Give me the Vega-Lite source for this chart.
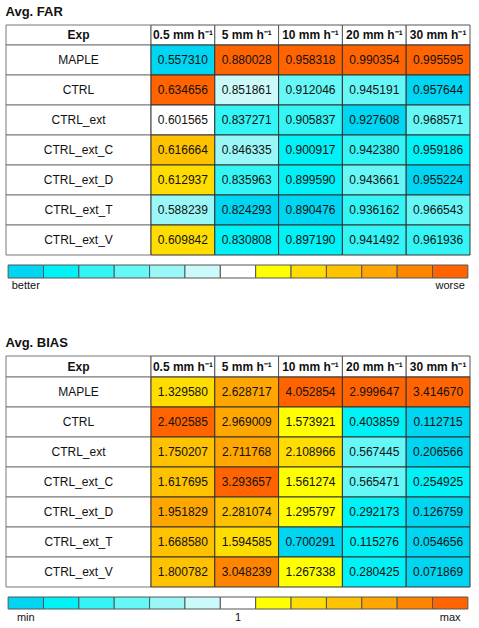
{
  "$schema": "https://vega.github.io/schema/vega-lite/v6.json",
  "padding": {"left": 5, "top": 5, "right": 5, "bottom": 5},
  "config": {
    "view": {"stroke": null},
    "font": "Liberation Sans",
    "text": {"font": "Liberation Sans", "fontSize": 12, "color": "#111"},
    "title": {"font": "Liberation Sans", "fontSize": 13, "fontWeight": "bold", "anchor": "start", "color": "#111"}
  },
  "datasets": {
    "far": [
      {"exp": "MAPLE", "thr": "0.5 mm h⁻¹", "value": 0.557310, "level": 1},
      {"exp": "MAPLE", "thr": "5 mm h⁻¹", "value": 0.880028, "level": 13},
      {"exp": "MAPLE", "thr": "10 mm h⁻¹", "value": 0.958318, "level": 13},
      {"exp": "MAPLE", "thr": "20 mm h⁻¹", "value": 0.990354, "level": 13},
      {"exp": "MAPLE", "thr": "30 mm h⁻¹", "value": 0.995595, "level": 13},
      {"exp": "CTRL", "thr": "0.5 mm h⁻¹", "value": 0.634656, "level": 13},
      {"exp": "CTRL", "thr": "5 mm h⁻¹", "value": 0.851861, "level": 6},
      {"exp": "CTRL", "thr": "10 mm h⁻¹", "value": 0.912046, "level": 4},
      {"exp": "CTRL", "thr": "20 mm h⁻¹", "value": 0.945191, "level": 4},
      {"exp": "CTRL", "thr": "30 mm h⁻¹", "value": 0.957644, "level": 1},
      {"exp": "CTRL_ext", "thr": "0.5 mm h⁻¹", "value": 0.601565, "level": 7},
      {"exp": "CTRL_ext", "thr": "5 mm h⁻¹", "value": 0.837271, "level": 3},
      {"exp": "CTRL_ext", "thr": "10 mm h⁻¹", "value": 0.905837, "level": 3},
      {"exp": "CTRL_ext", "thr": "20 mm h⁻¹", "value": 0.927608, "level": 1},
      {"exp": "CTRL_ext", "thr": "30 mm h⁻¹", "value": 0.968571, "level": 4},
      {"exp": "CTRL_ext_C", "thr": "0.5 mm h⁻¹", "value": 0.616664, "level": 10},
      {"exp": "CTRL_ext_C", "thr": "5 mm h⁻¹", "value": 0.846335, "level": 5},
      {"exp": "CTRL_ext_C", "thr": "10 mm h⁻¹", "value": 0.900917, "level": 2},
      {"exp": "CTRL_ext_C", "thr": "20 mm h⁻¹", "value": 0.942380, "level": 3},
      {"exp": "CTRL_ext_C", "thr": "30 mm h⁻¹", "value": 0.959186, "level": 2},
      {"exp": "CTRL_ext_D", "thr": "0.5 mm h⁻¹", "value": 0.612937, "level": 9},
      {"exp": "CTRL_ext_D", "thr": "5 mm h⁻¹", "value": 0.835963, "level": 3},
      {"exp": "CTRL_ext_D", "thr": "10 mm h⁻¹", "value": 0.899590, "level": 2},
      {"exp": "CTRL_ext_D", "thr": "20 mm h⁻¹", "value": 0.943661, "level": 4},
      {"exp": "CTRL_ext_D", "thr": "30 mm h⁻¹", "value": 0.955224, "level": 1},
      {"exp": "CTRL_ext_T", "thr": "0.5 mm h⁻¹", "value": 0.588239, "level": 5},
      {"exp": "CTRL_ext_T", "thr": "5 mm h⁻¹", "value": 0.824293, "level": 1},
      {"exp": "CTRL_ext_T", "thr": "10 mm h⁻¹", "value": 0.890476, "level": 1},
      {"exp": "CTRL_ext_T", "thr": "20 mm h⁻¹", "value": 0.936162, "level": 3},
      {"exp": "CTRL_ext_T", "thr": "30 mm h⁻¹", "value": 0.966543, "level": 4},
      {"exp": "CTRL_ext_V", "thr": "0.5 mm h⁻¹", "value": 0.609842, "level": 9},
      {"exp": "CTRL_ext_V", "thr": "5 mm h⁻¹", "value": 0.830808, "level": 2},
      {"exp": "CTRL_ext_V", "thr": "10 mm h⁻¹", "value": 0.897190, "level": 2},
      {"exp": "CTRL_ext_V", "thr": "20 mm h⁻¹", "value": 0.941492, "level": 3},
      {"exp": "CTRL_ext_V", "thr": "30 mm h⁻¹", "value": 0.961936, "level": 3}
    ],
    "bias": [
      {"exp": "MAPLE", "thr": "0.5 mm h⁻¹", "value": 1.329580, "level": 9},
      {"exp": "MAPLE", "thr": "5 mm h⁻¹", "value": 2.628717, "level": 11},
      {"exp": "MAPLE", "thr": "10 mm h⁻¹", "value": 4.052854, "level": 13},
      {"exp": "MAPLE", "thr": "20 mm h⁻¹", "value": 2.999647, "level": 13},
      {"exp": "MAPLE", "thr": "30 mm h⁻¹", "value": 3.414670, "level": 13},
      {"exp": "CTRL", "thr": "0.5 mm h⁻¹", "value": 2.402585, "level": 13},
      {"exp": "CTRL", "thr": "5 mm h⁻¹", "value": 2.969009, "level": 11},
      {"exp": "CTRL", "thr": "10 mm h⁻¹", "value": 1.573921, "level": 8},
      {"exp": "CTRL", "thr": "20 mm h⁻¹", "value": 0.403859, "level": 2},
      {"exp": "CTRL", "thr": "30 mm h⁻¹", "value": 0.112715, "level": 1},
      {"exp": "CTRL_ext", "thr": "0.5 mm h⁻¹", "value": 1.750207, "level": 10},
      {"exp": "CTRL_ext", "thr": "5 mm h⁻¹", "value": 2.711768, "level": 11},
      {"exp": "CTRL_ext", "thr": "10 mm h⁻¹", "value": 2.108966, "level": 9},
      {"exp": "CTRL_ext", "thr": "20 mm h⁻¹", "value": 0.567445, "level": 4},
      {"exp": "CTRL_ext", "thr": "30 mm h⁻¹", "value": 0.206566, "level": 1},
      {"exp": "CTRL_ext_C", "thr": "0.5 mm h⁻¹", "value": 1.617695, "level": 10},
      {"exp": "CTRL_ext_C", "thr": "5 mm h⁻¹", "value": 3.293657, "level": 13},
      {"exp": "CTRL_ext_C", "thr": "10 mm h⁻¹", "value": 1.561274, "level": 8},
      {"exp": "CTRL_ext_C", "thr": "20 mm h⁻¹", "value": 0.565471, "level": 4},
      {"exp": "CTRL_ext_C", "thr": "30 mm h⁻¹", "value": 0.254925, "level": 2},
      {"exp": "CTRL_ext_D", "thr": "0.5 mm h⁻¹", "value": 1.951829, "level": 11},
      {"exp": "CTRL_ext_D", "thr": "5 mm h⁻¹", "value": 2.281074, "level": 10},
      {"exp": "CTRL_ext_D", "thr": "10 mm h⁻¹", "value": 1.295797, "level": 8},
      {"exp": "CTRL_ext_D", "thr": "20 mm h⁻¹", "value": 0.292173, "level": 2},
      {"exp": "CTRL_ext_D", "thr": "30 mm h⁻¹", "value": 0.126759, "level": 1},
      {"exp": "CTRL_ext_T", "thr": "0.5 mm h⁻¹", "value": 1.668580, "level": 10},
      {"exp": "CTRL_ext_T", "thr": "5 mm h⁻¹", "value": 1.594585, "level": 9},
      {"exp": "CTRL_ext_T", "thr": "10 mm h⁻¹", "value": 0.700291, "level": 1},
      {"exp": "CTRL_ext_T", "thr": "20 mm h⁻¹", "value": 0.115276, "level": 2},
      {"exp": "CTRL_ext_T", "thr": "30 mm h⁻¹", "value": 0.054656, "level": 1},
      {"exp": "CTRL_ext_V", "thr": "0.5 mm h⁻¹", "value": 1.800782, "level": 10},
      {"exp": "CTRL_ext_V", "thr": "5 mm h⁻¹", "value": 3.048239, "level": 12},
      {"exp": "CTRL_ext_V", "thr": "10 mm h⁻¹", "value": 1.267338, "level": 8},
      {"exp": "CTRL_ext_V", "thr": "20 mm h⁻¹", "value": 0.280425, "level": 2},
      {"exp": "CTRL_ext_V", "thr": "30 mm h⁻¹", "value": 0.071869, "level": 1}
    ],
    "levels": [
      {"level": 1}, {"level": 2}, {"level": 3}, {"level": 4}, {"level": 5}, {"level": 6}, {"level": 7},
      {"level": 8}, {"level": 9}, {"level": 10}, {"level": 11}, {"level": 12}, {"level": 13}
    ],
    "farLabels": [{"level": 1, "label": "better"}, {"level": 13, "label": "worse"}],
    "biasLabels": [{"level": 1, "label": "min"}, {"level": 7, "label": "1"}, {"level": 13, "label": "max"}],
    "expHeader": [{"h": "Exp"}]
  },
  "spacing": 45,
  "vconcat": [
    {
      "title": {"text": "Avg. FAR", "offset": 6},
      "spacing": 8,
      "vconcat": [
        {
          "columns": 2,
          "spacing": 0,
          "bounds": "flush",
          "concat": [
            {
              "width": 145, "height": 20,
              "data": {"name": "expHeader"},
              "layer": [
                {"mark": {"type": "rect", "fill": "white", "stroke": "#777", "strokeWidth": 1}, "encoding": {}},
                {"mark": {"type": "text", "fontWeight": "bold"}, "encoding": {"text": {"field": "h"}}}
              ]
            },
            {
              "width": 319, "height": 20,
              "data": {"name": "far"},
              "transform": [{"aggregate": [{"op": "count", "as": "n"}], "groupby": ["thr"]}],
              "encoding": {
                "x": {"field": "thr", "type": "ordinal", "axis": null,
                  "scale": {"domain": ["0.5 mm h⁻¹", "5 mm h⁻¹", "10 mm h⁻¹", "20 mm h⁻¹", "30 mm h⁻¹"], "paddingInner": 0, "paddingOuter": 0}}
              },
              "layer": [
                {"mark": {"type": "rect", "fill": "white", "stroke": "#555", "strokeWidth": 1}},
                {"mark": {"type": "text", "fontWeight": "bold"}, "encoding": {"text": {"field": "thr"}}}
              ]
            },
            {
              "width": 145, "height": 210,
              "data": {"name": "far"},
              "transform": [{"aggregate": [{"op": "count", "as": "n"}], "groupby": ["exp"]}],
              "encoding": {
                "y": {"field": "exp", "type": "ordinal", "axis": null,
                  "scale": {"domain": ["MAPLE", "CTRL", "CTRL_ext", "CTRL_ext_C", "CTRL_ext_D", "CTRL_ext_T", "CTRL_ext_V"], "paddingInner": 0, "paddingOuter": 0}}
              },
              "layer": [
                {"mark": {"type": "rect", "fill": "white", "stroke": "#777", "strokeWidth": 1}},
                {"mark": {"type": "text"}, "encoding": {"text": {"field": "exp"}}}
              ]
            },
            {
              "width": 319, "height": 210,
              "data": {"name": "far"},
              "encoding": {
                "x": {"field": "thr", "type": "ordinal", "axis": null,
                  "scale": {"domain": ["0.5 mm h⁻¹", "5 mm h⁻¹", "10 mm h⁻¹", "20 mm h⁻¹", "30 mm h⁻¹"], "paddingInner": 0, "paddingOuter": 0}},
                "y": {"field": "exp", "type": "ordinal", "axis": null,
                  "scale": {"domain": ["MAPLE", "CTRL", "CTRL_ext", "CTRL_ext_C", "CTRL_ext_D", "CTRL_ext_T", "CTRL_ext_V"], "paddingInner": 0, "paddingOuter": 0}}
              },
              "layer": [
                {"mark": {"type": "rect", "stroke": "#333", "strokeWidth": 1},
                 "encoding": {"fill": {"field": "level", "type": "ordinal", "legend": null,
                   "scale": {"domain": [1,2,3,4,5,6,7,8,9,10,11,12,13],
                     "range": ["#00D6F2", "#00F2F7", "#33F5F5", "#66F7F7", "#99F7F7", "#CCF9F9", "#FFFFFF", "#FFFF00", "#FFDD00", "#FFC200", "#FFA600", "#FF8400", "#FF6400"]}}}},
                {"mark": {"type": "text"}, "encoding": {"text": {"field": "value", "type": "quantitative", "format": ".6f"}}}
              ]
            }
          ]
        },
        {
          "width": 464, "height": 13,
          "layer": [
            {
              "data": {"name": "levels"},
              "mark": {"type": "rect", "stroke": "#555", "strokeWidth": 1},
              "encoding": {
                "x": {"field": "level", "type": "ordinal", "axis": null,
                  "scale": {"domain": [1,2,3,4,5,6,7,8,9,10,11,12,13], "paddingInner": 0, "paddingOuter": 0.06}},
                "fill": {"field": "level", "type": "ordinal", "legend": null,
                  "scale": {"domain": [1,2,3,4,5,6,7,8,9,10,11,12,13],
                    "range": ["#00D6F2", "#00F2F7", "#33F5F5", "#66F7F7", "#99F7F7", "#CCF9F9", "#FFFFFF", "#FFFF00", "#FFDD00", "#FFC200", "#FFA600", "#FF8400", "#FF6400"]}}
              }
            },
            {
              "data": {"name": "farLabels"},
              "mark": {"type": "text", "fontSize": 11, "dy": 14.5},
              "encoding": {
                "x": {"field": "level", "type": "ordinal", "axis": null},
                "text": {"field": "label"}
              }
            }
          ]
        }
      ]
    },
    {
      "title": {"text": "Avg. BIAS", "offset": 6},
      "spacing": 8,
      "vconcat": [
        {
          "columns": 2,
          "spacing": 0,
          "bounds": "flush",
          "concat": [
            {
              "width": 145, "height": 21,
              "data": {"name": "expHeader"},
              "layer": [
                {"mark": {"type": "rect", "fill": "white", "stroke": "#777", "strokeWidth": 1}, "encoding": {}},
                {"mark": {"type": "text", "fontWeight": "bold"}, "encoding": {"text": {"field": "h"}}}
              ]
            },
            {
              "width": 319, "height": 21,
              "data": {"name": "bias"},
              "transform": [{"aggregate": [{"op": "count", "as": "n"}], "groupby": ["thr"]}],
              "encoding": {
                "x": {"field": "thr", "type": "ordinal", "axis": null,
                  "scale": {"domain": ["0.5 mm h⁻¹", "5 mm h⁻¹", "10 mm h⁻¹", "20 mm h⁻¹", "30 mm h⁻¹"], "paddingInner": 0, "paddingOuter": 0}}
              },
              "layer": [
                {"mark": {"type": "rect", "fill": "white", "stroke": "#555", "strokeWidth": 1}},
                {"mark": {"type": "text", "fontWeight": "bold"}, "encoding": {"text": {"field": "thr"}}}
              ]
            },
            {
              "width": 145, "height": 210,
              "data": {"name": "bias"},
              "transform": [{"aggregate": [{"op": "count", "as": "n"}], "groupby": ["exp"]}],
              "encoding": {
                "y": {"field": "exp", "type": "ordinal", "axis": null,
                  "scale": {"domain": ["MAPLE", "CTRL", "CTRL_ext", "CTRL_ext_C", "CTRL_ext_D", "CTRL_ext_T", "CTRL_ext_V"], "paddingInner": 0, "paddingOuter": 0}}
              },
              "layer": [
                {"mark": {"type": "rect", "fill": "white", "stroke": "#777", "strokeWidth": 1}},
                {"mark": {"type": "text"}, "encoding": {"text": {"field": "exp"}}}
              ]
            },
            {
              "width": 319, "height": 210,
              "data": {"name": "bias"},
              "encoding": {
                "x": {"field": "thr", "type": "ordinal", "axis": null,
                  "scale": {"domain": ["0.5 mm h⁻¹", "5 mm h⁻¹", "10 mm h⁻¹", "20 mm h⁻¹", "30 mm h⁻¹"], "paddingInner": 0, "paddingOuter": 0}},
                "y": {"field": "exp", "type": "ordinal", "axis": null,
                  "scale": {"domain": ["MAPLE", "CTRL", "CTRL_ext", "CTRL_ext_C", "CTRL_ext_D", "CTRL_ext_T", "CTRL_ext_V"], "paddingInner": 0, "paddingOuter": 0}}
              },
              "layer": [
                {"mark": {"type": "rect", "stroke": "#333", "strokeWidth": 1},
                 "encoding": {"fill": {"field": "level", "type": "ordinal", "legend": null,
                   "scale": {"domain": [1,2,3,4,5,6,7,8,9,10,11,12,13],
                     "range": ["#00D6F2", "#00F2F7", "#33F5F5", "#66F7F7", "#99F7F7", "#CCF9F9", "#FFFFFF", "#FFFF00", "#FFDD00", "#FFC200", "#FFA600", "#FF8400", "#FF6400"]}}}},
                {"mark": {"type": "text"}, "encoding": {"text": {"field": "value", "type": "quantitative", "format": ".6f"}}}
              ]
            }
          ]
        },
        {
          "width": 464, "height": 12,
          "layer": [
            {
              "data": {"name": "levels"},
              "mark": {"type": "rect", "stroke": "#555", "strokeWidth": 1},
              "encoding": {
                "x": {"field": "level", "type": "ordinal", "axis": null,
                  "scale": {"domain": [1,2,3,4,5,6,7,8,9,10,11,12,13], "paddingInner": 0, "paddingOuter": 0.06}},
                "fill": {"field": "level", "type": "ordinal", "legend": null,
                  "scale": {"domain": [1,2,3,4,5,6,7,8,9,10,11,12,13],
                    "range": ["#00D6F2", "#00F2F7", "#33F5F5", "#66F7F7", "#99F7F7", "#CCF9F9", "#FFFFFF", "#FFFF00", "#FFDD00", "#FFC200", "#FFA600", "#FF8400", "#FF6400"]}}
              }
            },
            {
              "data": {"name": "biasLabels"},
              "mark": {"type": "text", "fontSize": 11, "dy": 15},
              "encoding": {
                "x": {"field": "level", "type": "ordinal", "axis": null},
                "text": {"field": "label"}
              }
            }
          ]
        }
      ]
    }
  ]
}
